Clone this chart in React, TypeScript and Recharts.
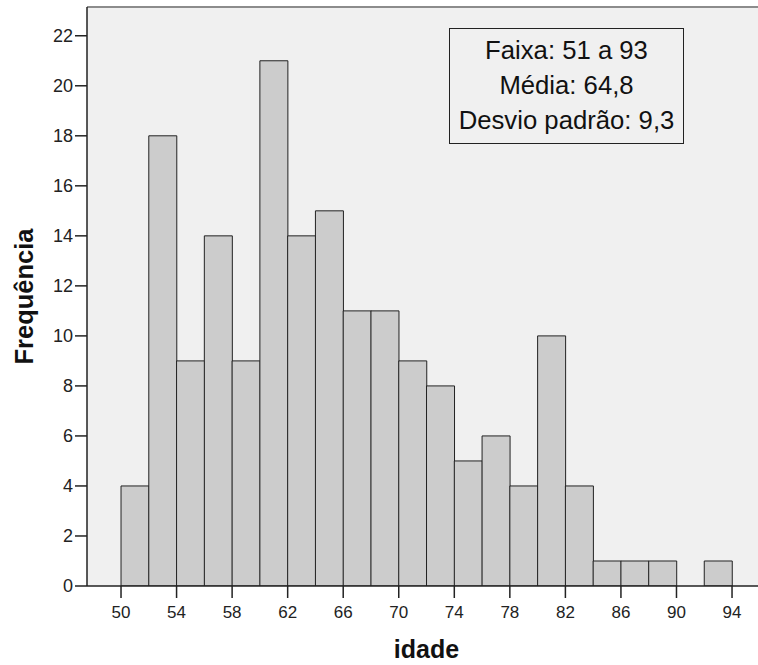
import React from 'react';
import { BarChart, Bar, XAxis, YAxis, CartesianGrid, ReferenceLine, Label } from 'recharts';

// histogram bins (2 years wide), centre of each bin
const binCenters = [51, 53, 55, 57, 59, 61, 63, 65, 67, 69, 71, 73, 75, 77, 79, 81, 83, 85, 87, 89, 91, 93];
const frequencies = [4, 18, 9, 14, 9, 21, 14, 15, 11, 11, 9, 8, 5, 6, 4, 10, 4, 1, 1, 1, 0, 1];
const xTicks = [50, 54, 58, 62, 66, 70, 74, 78, 82, 86, 90, 94];
const yTicks = [0, 2, 4, 6, 8, 10, 12, 14, 16, 18, 20, 22];
const statsLines = ['Faixa: 51 a 93', 'Média: 64,8', 'Desvio padrão: 9,3'];

const xDomain: [number, number] = [47.55, 95.87];
const yMax = 23.15;

const data = binCenters.map((idade, i) => ({ idade, freq: frequencies[i] }));

const App: React.FC = () => {
  return (
    <div
      style={{
        position: 'absolute',
        left: 0,
        top: 0,
        width: 758,
        height: 665,
        background: '#fff',
        fontFamily: '"Liberation Sans", Arial, sans-serif',
      }}
    >
      <BarChart
        width={758}
        height={665}
        data={data}
        margin={{ top: 7, right: 0, bottom: 0, left: 0 }}
        barCategoryGap={0}
        barGap={0}
      >
        <CartesianGrid horizontal={false} vertical={false} fill="#f0f0f0" />
        <XAxis
          type="number"
          dataKey="idade"
          domain={xDomain}
          ticks={xTicks}
          interval={0}
          allowDataOverflow
          height={79}
          tickSize={12}
          tickMargin={8}
          stroke="#222"
          strokeWidth={1.5}
          tick={{ fill: '#222', fontSize: 17 }}
        >
          <Label value="idade" position="insideBottom" offset={7} dx={4} style={{ fontWeight: 'bold', fontSize: 25, fill: '#111' }} />
        </XAxis>
        <YAxis
          type="number"
          domain={[0, yMax]}
          ticks={yTicks}
          interval={0}
          allowDataOverflow
          width={87}
          tickSize={12}
          tickMargin={2}
          stroke="#222"
          strokeWidth={1.5}
          tick={{ fill: '#222', fontSize: 18 }}
        >
          <Label
            value="Frequência"
            angle={-90}
            position="insideLeft"
            offset={24}
            style={{ textAnchor: 'middle', fontWeight: 'bold', fontSize: 25.5, fill: '#111' }}
          />
        </YAxis>
        <ReferenceLine y={yMax} stroke="#8c8c8c" strokeWidth={2} ifOverflow="visible" />
        <Bar dataKey="freq" fill="#cccccc" stroke="#222" strokeWidth={1} isAnimationActive={false} />
      </BarChart>
      <div
        style={{
          position: 'absolute',
          left: 449,
          top: 28,
          width: 235,
          height: 116,
          boxSizing: 'border-box',
          border: '1px solid #222',
          background: '#f0f0f0',
          textAlign: 'center',
          fontSize: 25.7,
          lineHeight: '35px',
          paddingTop: 4,
          color: '#111',
          whiteSpace: 'nowrap',
        }}
      >
        {statsLines.map((line) => (
          <div key={line}>{line}</div>
        ))}
      </div>
    </div>
  );
};

export default App;
